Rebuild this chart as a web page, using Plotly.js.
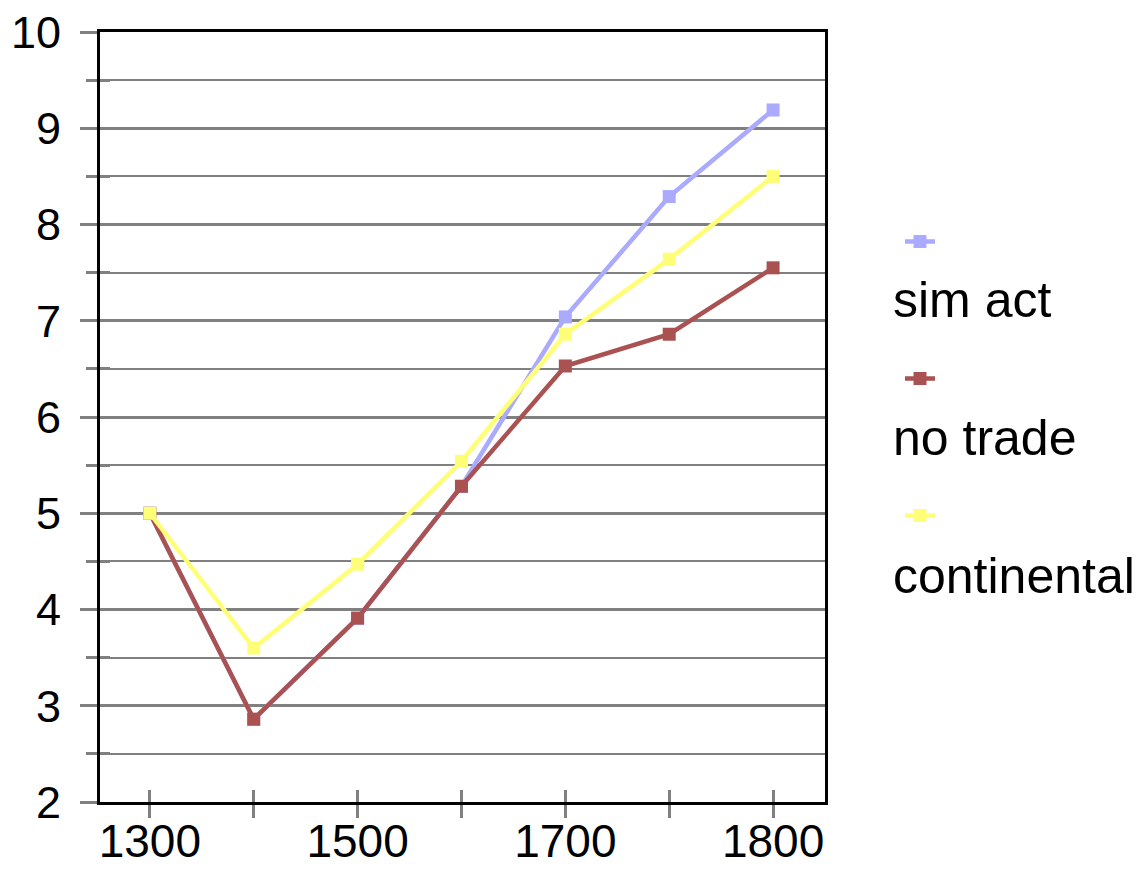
<!DOCTYPE html>
<html>
<head>
<meta charset="utf-8">
<script src="https://cdn.plot.ly/plotly-3.0.1.min.js"></script>
<style>html,body{margin:0;padding:0;background:#fff;}#chart{width:1148px;height:872px;}</style>
</head>
<body>
<div id="chart"></div>
<script>
// Data
const years = ['1300', '1400', '1500', '1600', '1700', '1750', '1800'];
const yearLabels = ['1300', '', '1500', '', '1700', '', '1800'];
const seriesNames = ['sim act', 'no trade', 'continental'];
const simAct = [5.0, 2.86, 3.91, 5.28, 7.04, 8.29, 9.19];
const noTrade = [5.0, 2.86, 3.91, 5.28, 6.53, 6.86, 7.55];
const continental = [5.0, 3.6, 4.47, 5.54, 6.86, 7.64, 8.50];
const colors = ['#aaaaff', '#aa5252', '#ffff77'];

const allSeries = [simAct, noTrade, continental];
const traces = [];
// transparent helper trace on the overlay axes so their extra (inside) ticks are drawn
traces.push({type: 'scatter', mode: 'lines', x: years, y: noTrade, xaxis: 'x2', yaxis: 'y2',
             opacity: 0, line: {width: 0}, showlegend: false, hoverinfo: 'skip'});
allSeries.forEach((vals, i) => traces.push({
  type: 'scatter',
  mode: 'lines+markers',
  x: years,
  y: vals,
  name: ' ',
  legendgroup: 'g' + i,
  line: {color: colors[i], width: 4.5},
  marker: {symbol: 'square', size: 13, color: colors[i]},
  hovertemplate: seriesNames[i] + ': %{y}<extra></extra>'
}));

const tickGray = '#808080';
const plotW = 725, plotH = 770, mL = 100, mT = 32;
function px2x(p) { return (p - mL) / plotW; }
function py2y(p) { return (mT + plotH - p) / plotH; }

const labelY = [300, 438, 576];
const annotations = seriesNames.map((n, i) => ({
  xref: 'paper', yref: 'paper',
  x: px2x(891), y: py2y(labelY[i]),
  xanchor: 'left', yanchor: 'middle',
  text: n, showarrow: false,
  font: {family: 'Liberation Sans, Arial, sans-serif', size: 50, color: '#000'}
}));

const layout = {
  width: 1148, height: 872,
  margin: {l: mL, r: 1148 - mL - plotW, t: mT, b: 872 - mT - plotH},
  paper_bgcolor: '#fff', plot_bgcolor: '#fff',
  font: {family: 'Liberation Sans, Arial, sans-serif', color: '#000'},
  showlegend: true,
  legend: {
    x: px2x(900), y: py2y(222), xanchor: 'left', yanchor: 'top',
    font: {size: 20}, traceorder: 'grouped', tracegroupgap: 108,
    bgcolor: 'rgba(0,0,0,0)', borderwidth: 0
  },
  xaxis: {
    type: 'category',
    range: [-0.48, 6.5],
    tickmode: 'array', tickvals: years, ticktext: yearLabels,
    ticks: 'outside', ticklen: 13, tickwidth: 3, tickcolor: tickGray,
    tickfont: {size: 46, color: '#000'},
    ticklabelstandoff: -16,
    showgrid: false, zeroline: false,
    showline: true, linecolor: '#000', linewidth: 3, mirror: true,
    fixedrange: true
  },
  xaxis2: {
    type: 'category', overlaying: 'x', anchor: 'y', side: 'bottom',
    range: [-0.48, 6.5],
    tickmode: 'array', tickvals: years, ticktext: years.map(() => ''),
    ticks: 'inside', ticklen: 12, tickwidth: 3, tickcolor: tickGray,
    showgrid: false, zeroline: false, showline: false, showticklabels: false,
    fixedrange: true
  },
  yaxis: {
    range: [2, 10], dtick: 1, tick0: 0,
    ticks: 'outside', ticklen: 17, tickwidth: 3, tickcolor: tickGray,
    tickfont: {size: 45, color: '#000'},
    ticklabelstandoff: 10,
    showgrid: true, gridcolor: tickGray, gridwidth: 3,
    minor: {dtick: 0.5, showgrid: true, gridcolor: tickGray, gridwidth: 2,
            ticks: 'outside', ticklen: 11, tickwidth: 3, tickcolor: tickGray},
    zeroline: false,
    showline: true, linecolor: '#000', linewidth: 3, mirror: true,
    fixedrange: true
  },
  yaxis2: {
    range: [2, 10], dtick: 1, tick0: 0, overlaying: 'y', anchor: 'x', side: 'left',
    ticks: '', showticklabels: false, showgrid: false, zeroline: false, showline: false,
    minor: {dtick: 0.5, ticks: 'inside', ticklen: 10, tickwidth: 3, tickcolor: tickGray, showgrid: false},
    fixedrange: true
  },
  annotations: annotations
};

Plotly.newPlot('chart', traces, layout, {displayModeBar: false});
</script>
</body>
</html>
